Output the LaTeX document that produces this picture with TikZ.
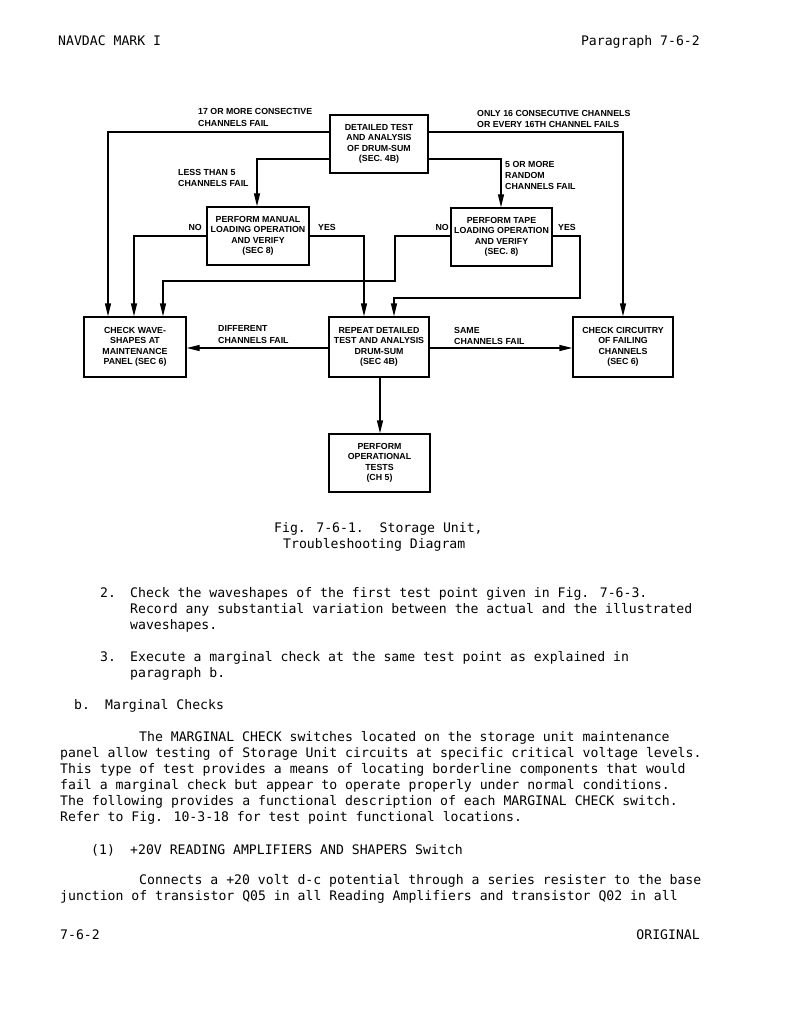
\documentclass[tikz,border=0pt]{standalone}
\usepackage{fontspec}
\setmainfont{Liberation Sans}
\newfontfamily\typewriter{DejaVu Sans Mono}
\usetikzlibrary{arrows.meta}
\begin{document}
\begin{tikzpicture}[x=1pt,y=-1pt,
  box/.style={draw,line width=1.3pt,align=center,inner sep=0pt,
    font=\bfseries\fontsize{8.8}{10.5}\selectfont},
  lbl/.style={anchor=base west,inner sep=0pt,font=\bfseries\fontsize{8.8}{10.5}\selectfont},
  lblr/.style={lbl,anchor=base east},
  txt/.style={anchor=base west,inner sep=0pt,font=\typewriter\fontsize{13.15}{16}\selectfont},
  txtr/.style={txt,anchor=base east},
  wire/.style={line width=1.3pt},
  arr/.style={wire,-{Triangle[length=13pt,width=6pt]}}]
\useasboundingbox[fill=white] (0,0) rectangle (793,1024);

% boxes
\node[box,minimum width=98pt,minimum height=58pt] (top) at (379,144)
  {DETAILED TEST\\AND ANALYSIS\\OF DRUM-SUM\\(SEC. 4B)};
\node[box,minimum width=102pt,minimum height=58pt] (manual) at (258,236)
  {PERFORM MANUAL\\LOADING OPERATION\\AND VERIFY\\(SEC 8)};
\node[box,minimum width=101pt,minimum height=58pt] (tape) at (501.5,237)
  {PERFORM TAPE\\LOADING OPERATION\\AND VERIFY\\(SEC. 8)};
\node[box,minimum width=102pt,minimum height=60pt] (wave) at (135,347)
  {CHECK WAVE-\\SHAPES AT\\MAINTENANCE\\PANEL (SEC 6)};
\node[box,minimum width=100pt,minimum height=60pt] (repeat) at (379,347)
  {REPEAT DETAILED\\TEST AND ANALYSIS\\DRUM-SUM\\(SEC 4B)};
\node[box,minimum width=100pt,minimum height=60pt] (circ) at (623,347)
  {CHECK CIRCUITRY\\OF FAILING\\CHANNELS\\(SEC 6)};
\node[box,minimum width=101pt,minimum height=58pt] (oper) at (379.5,463)
  {PERFORM\\OPERATIONAL\\TESTS\\(CH 5)};

% connectors
\draw[arr] (top.west |- 0,132) -| (wave.north -| 108,0);
\draw[arr] (top.west |- 0,159) -| (manual.north -| 257,0);
\draw[arr] (top.east |- 0,132) -| (circ.north);
\draw[arr] (top.east |- 0,159) -| (tape.north -| 501,0);
\draw[arr] (manual.west) -| (wave.north -| 134,0);
\draw[arr] (manual.east) -| (repeat.north -| 364,0);
\coordinate (tn1) at (395,281);
\draw[arr] (tape.west |- 0,236) -| (tn1) -| (wave.north -| 163,0);
\coordinate (ty1) at (580,298);
\draw[arr] (tape.east |- 0,236) -| (ty1) -| (repeat.north -| 394,0);
\draw[arr] (repeat.west |- 0,348) -- (wave.east |- 0,348);
\draw[arr] (repeat.east |- 0,348) -- (circ.west |- 0,348);
\draw[arr] (repeat.south -| 380,0) -- (oper.north -| 380,0);

% connector labels
\node[lbl] (l1a) at (198,115) {17 OR MORE CONSECTIVE};
\node[lbl] (l1b) at (198,127) {CHANNELS FAIL};
\node[lbl] (l2a) at (477,117) {ONLY 16 CONSECUTIVE CHANNELS};
\node[lbl] (l2b) at (477,128) {OR EVERY 16TH CHANNEL FAILS};
\node[lbl] (l3a) at (178,176) {LESS THAN 5};
\node[lbl] (l3b) at (178,187) {CHANNELS FAIL};
\node[lbl] (l4a) at (505,168) {5 OR MORE};
\node[lbl] (l4b) at (505,179) {RANDOM};
\node[lbl] (l4c) at (505,190) {CHANNELS FAIL};
\node[lblr] (no1) at (202,231) {NO};
\node[lbl] (yes1) at (318,231) {YES};
\node[lblr] (no2) at (449,231) {NO};
\node[lbl] (yes2) at (558,231) {YES};
\node[lbl] (l5a) at (218,331) {DIFFERENT};
\node[lbl] (l5b) at (218,343) {CHANNELS FAIL};
\node[lbl] (l6a) at (454,333) {SAME};
\node[lbl] (l6b) at (454,344) {CHANNELS FAIL};

% page text
\node[txt] (h1) at (58,46) {NAVDAC MARK I};
\node[txtr] (h2) at (700,46) {Paragraph 7-6-2};
\node[txt] (c1) at (274,532.5) {Fig. 7-6-1.\ \ Storage Unit,};
\node[txt] (c2) at (283,548) {Troubleshooting Diagram};
\node[txt] (t1n) at (100,597.5) {2.};
\node[txt] (t1) at (130,597.5) {Check the waveshapes of the first test point given in Fig. 7-6-3.};
\node[txt] (t2) at (130,613.5) {Record any substantial variation between the actual and the illustrated};
\node[txt] (t3) at (130,629.5) {waveshapes.};
\node[txt] (t4n) at (100,661.5) {3.};
\node[txt] (t4) at (130,661.5) {Execute a marginal check at the same test point as explained in};
\node[txt] (t5) at (130,677.5) {paragraph b.};
\node[txt] (t6n) at (74,709.5) {b.};
\node[txt] (t6) at (105,709.5) {Marginal Checks};
\node[txt] (t7) at (139,741.5) {The MARGINAL CHECK switches located on the storage unit maintenance};
\node[txt] (t8) at (60,757.5) {panel allow testing of Storage Unit circuits at specific critical voltage levels.};
\node[txt] (t9) at (60,773.5) {This type of test provides a means of locating borderline components that would};
\node[txt] (t10) at (60,789.5) {fail a marginal check but appear to operate properly under normal conditions.};
\node[txt] (t11) at (60,805.5) {The following provides a functional description of each MARGINAL CHECK switch.};
\node[txt] (t12) at (60,821.5) {Refer to Fig. 10-3-18 for test point functional locations.};
\node[txt] (t13n) at (91,854.5) {(1)};
\node[txt] (t13) at (130,854.5) {+20V READING AMPLIFIERS AND SHAPERS Switch};
\node[txt] (t14) at (139,884.5) {Connects a +20 volt d-c potential through a series resister to the base};
\node[txt] (t15) at (60,900.5) {junction of transistor Q05 in all Reading Amplifiers and transistor Q02 in all};
\node[txt] (f1) at (60,939.5) {7-6-2};
\node[txtr] (f2) at (700,939.5) {ORIGINAL};
\end{tikzpicture}
\end{document}
